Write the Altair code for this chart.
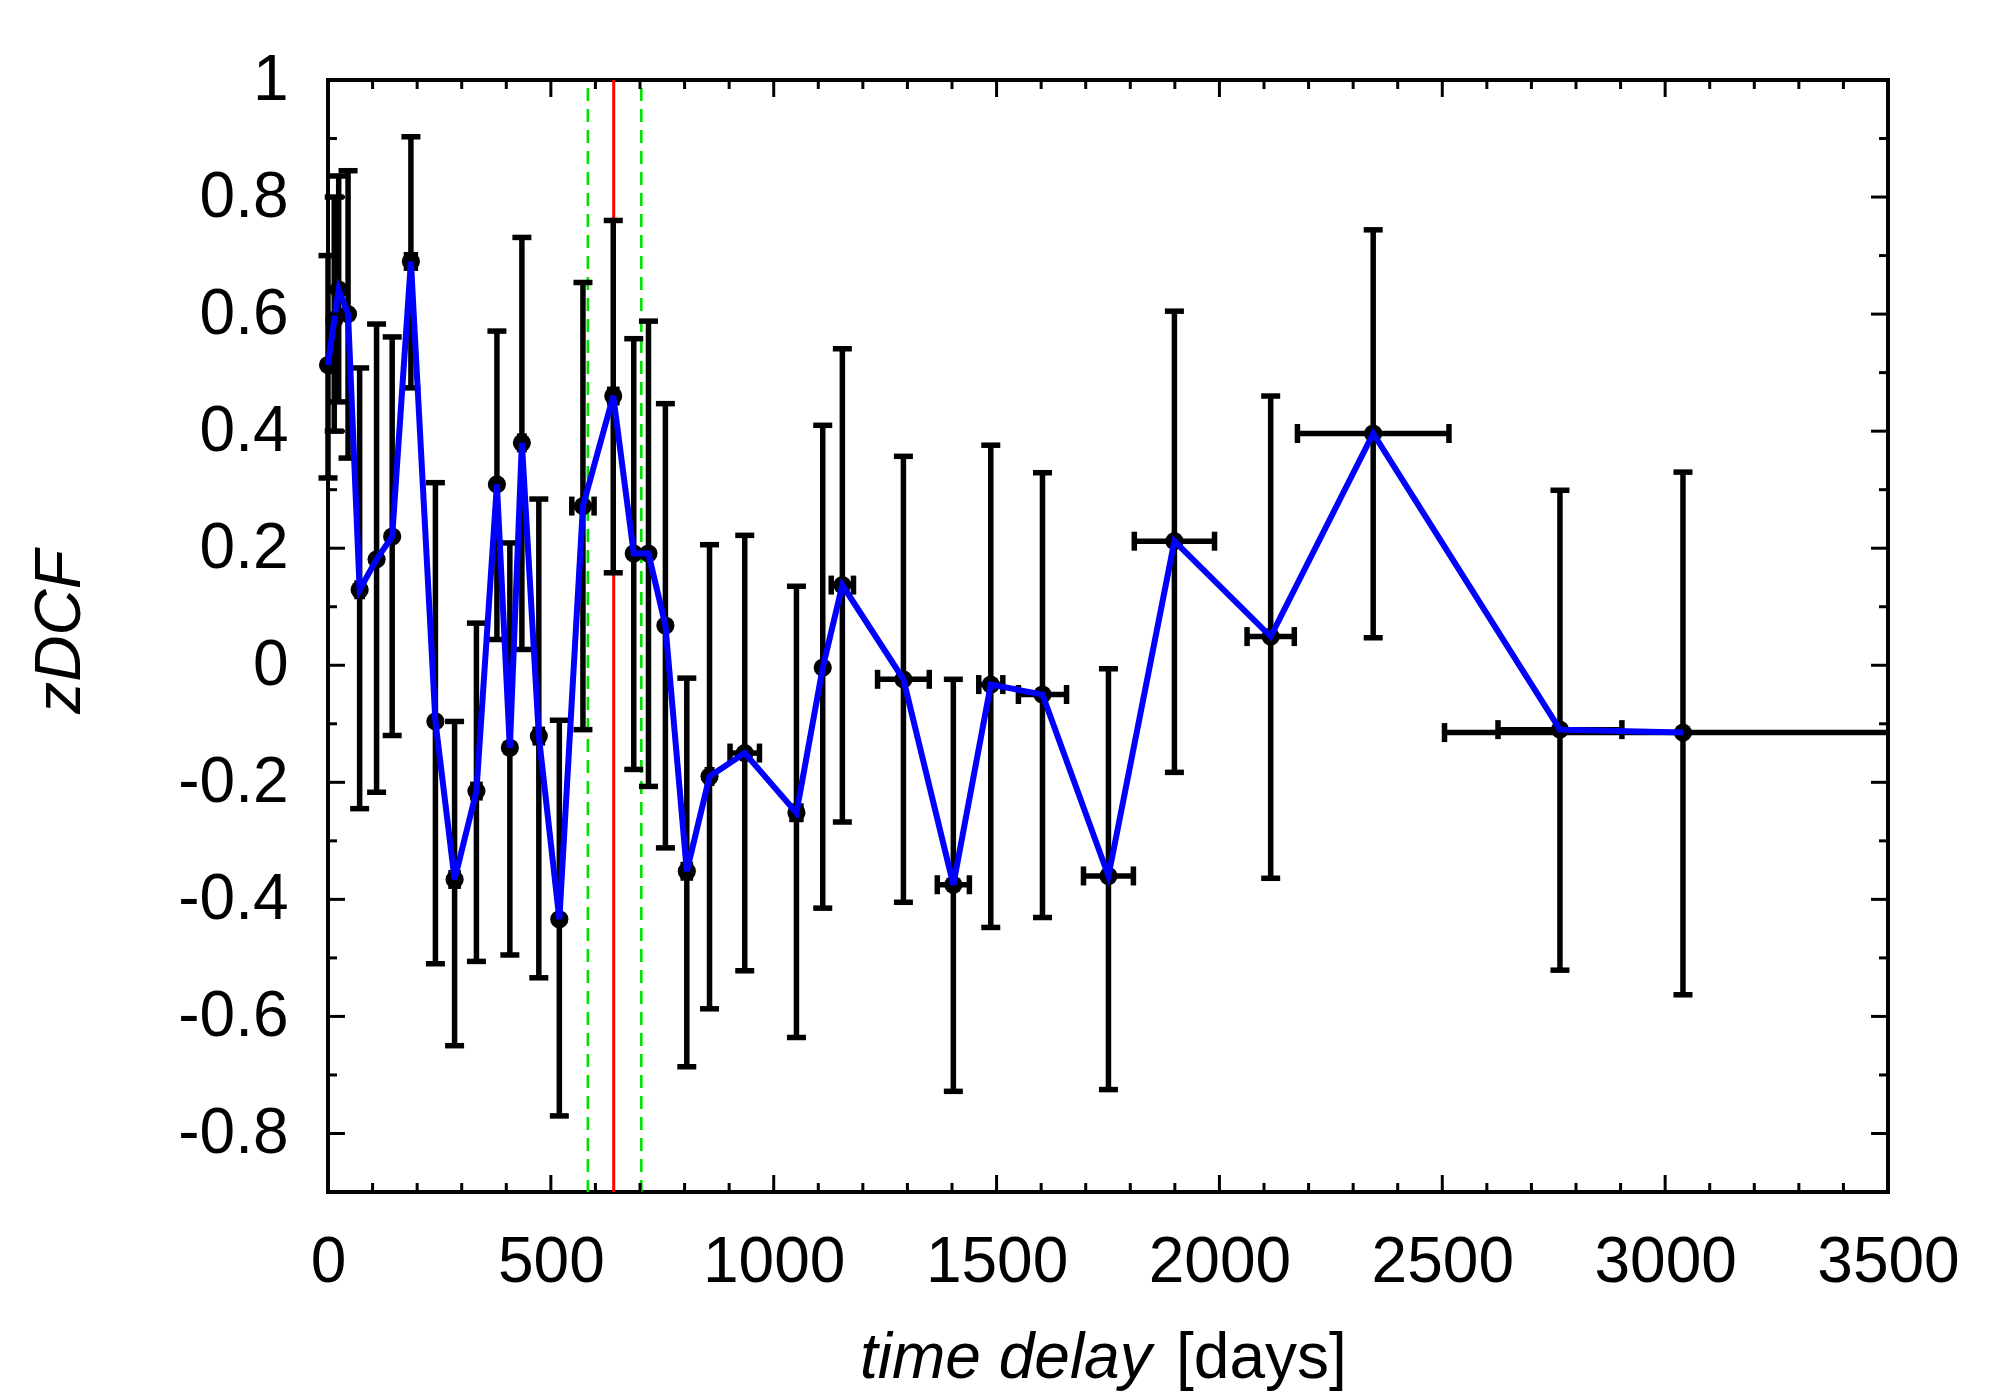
import altair as alt
import pandas as pd

# ---- data ----
lag = [0, 14, 24, 45, 71, 109, 144, 186, 241, 284, 333, 379, 408, 435, 473, 519,
       572, 640, 686, 719, 757, 805, 856, 935, 1051, 1110, 1154, 1291, 1403, 1487,
       1603, 1751, 1899, 2115, 2345, 2764, 3040]
zdcf = [0.513, 0.59, 0.642, 0.60, 0.129, 0.181, 0.22, 0.69, -0.096, -0.366, -0.215,
        0.309, -0.141, 0.38, -0.121, -0.434, 0.272, 0.46, 0.191, 0.191, 0.068, -0.352,
        -0.19, -0.15, -0.252, -0.004, 0.137, -0.024, -0.375, -0.033, -0.05, -0.36,
        0.212, 0.049, 0.396, -0.11, -0.115]
err_lo = [0.32, 0.40, 0.45, 0.354, -0.245, -0.217, -0.12, 0.474, -0.51, -0.65, -0.506,
          0.044, -0.495, 0.027, -0.534, -0.77, -0.11, 0.158, -0.178, -0.207, -0.312,
          -0.686, -0.587, -0.522, -0.636, -0.415, -0.268, -0.405, -0.728, -0.448,
          -0.431, -0.725, -0.183, -0.364, 0.047, -0.521, -0.563]
err_hi = [0.70, 0.80, 0.836, 0.845, 0.508, 0.583, 0.561, 0.903, 0.312, -0.096, 0.072,
          0.571, 0.209, 0.731, 0.284, -0.094, 0.654, 0.760, 0.558, 0.588, 0.447, -0.022,
          0.206, 0.222, 0.135, 0.41, 0.541, 0.357, -0.024, 0.376, 0.329, -0.006, 0.605,
          0.46, 0.744, 0.299, 0.33]
lag_err = [0, 0, 0, 0, 6, 0, 0, 10, 0, 8, 8, 0, 0, 5, 8, 0, 25, 8, 0, 0, 0, 8, 5, 33,
           10, 0, 25, 58, 36, 27, 54, 56, 90, 53, 170, 139, 535]

peak_lag = [641]
peak_range = [583, 703]

x_major = [0, 500, 1000, 1500, 2000, 2500, 3000, 3500]
x_minor = [100, 200, 300, 400, 600, 700, 800, 900, 1100, 1200, 1300, 1400, 1600, 1700,
           1800, 1900, 2100, 2200, 2300, 2400, 2600, 2700, 2800, 2900, 3100, 3200, 3300, 3400]
y_major = [-0.8, -0.6, -0.4, -0.2, 0.0, 0.2, 0.4, 0.6, 0.8, 1.0]
y_minor = [-0.9, -0.7, -0.5, -0.3, -0.1, 0.1, 0.3, 0.5, 0.7, 0.9]

x_title_italic = "time delay"
x_title_unit = "[days]"
y_title = "zDCF"

# ---- layout / style ----
W, H = 1560, 1112
FONT = "Liberation Sans"
FS = 64
MAJ, MIN = 17, 9
LW = 5.5

df = pd.DataFrame({"lag": lag, "zdcf": zdcf, "lo": err_lo, "hi": err_hi, "xe": lag_err})
df["xlo"] = df["lag"] - df["xe"]
df["xhi"] = df["lag"] + df["xe"]
hb = df[df["xe"] > 0]

xs = alt.Scale(domain=[0, 3500], nice=False, zero=False)
ys = alt.Scale(domain=[-0.9, 1.0], nice=False, zero=False)

xaxis = alt.Axis(values=x_major, title=None, grid=False, domain=False, ticks=False,
                 tickSize=0, labelFont=FONT, labelFontSize=FS, labelColor="black",
                 labelPadding=38, labelFlush=False, labelOverlap=False, format="d")
yaxis = alt.Axis(values=y_major, title=None, grid=False, domain=False, ticks=False,
                 tickSize=0, labelFont=FONT, labelFontSize=FS, labelColor="black",
                 labelPadding=40, labelFlush=False, labelOverlap=False,
                 labelExpr="'' + round(datum.value * 10) / 10")


def X(f):
    return alt.X(f, type="quantitative", scale=xs, axis=xaxis)


def Y(f):
    return alt.Y(f, type="quantitative", scale=ys, axis=yaxis)


layers = []

# red peak line and green dashed range
layers.append(alt.Chart(pd.DataFrame({"v": peak_lag})).mark_rule(color="#ff0000", strokeWidth=3)
              .encode(x=X("v"), y=alt.value(0), y2=alt.value(H)))
layers.append(alt.Chart(pd.DataFrame({"v": peak_range})).mark_rule(color="#00e000", strokeWidth=2.6,
                                                                   strokeDash=[13, 8])
              .encode(x=X("v"), y=alt.value(8), y2=alt.value(H)))

# vertical error bars
base = alt.Chart(df)
layers.append(base.mark_rule(color="black", strokeWidth=LW)
              .encode(x=X("lag"), y=Y("lo"), y2="hi"))
layers.append(base.mark_tick(color="black", orient="horizontal", size=19, thickness=LW, opacity=1)
              .encode(x=X("lag"), y=Y("lo")))
layers.append(base.mark_tick(color="black", orient="horizontal", size=19, thickness=LW, opacity=1)
              .encode(x=X("lag"), y=Y("hi")))

# horizontal error bars
hbase = alt.Chart(hb)
layers.append(hbase.mark_rule(color="black", strokeWidth=LW, clip=True)
              .encode(x=X("xlo"), x2="xhi", y=Y("zdcf")))
layers.append(hbase.mark_tick(color="black", orient="vertical", size=19, thickness=LW, opacity=1, clip=True)
              .encode(x=X("xlo"), y=Y("zdcf")))
layers.append(hbase.mark_tick(color="black", orient="vertical", size=19, thickness=LW, opacity=1, clip=True)
              .encode(x=X("xhi"), y=Y("zdcf")))

# points and connecting line
layers.append(base.mark_circle(color="black", size=330, opacity=1)
              .encode(x=X("lag"), y=Y("zdcf")))
layers.append(base.mark_line(color="#0000ff", strokeWidth=6)
              .encode(x=X("lag"), y=Y("zdcf"), order="lag:Q"))

# inward ticks on all four sides
for vals, ln in ((x_major, MAJ), (x_minor, MIN)):
    d = alt.Chart(pd.DataFrame({"v": vals}))
    layers.append(d.mark_rule(color="black", strokeWidth=3)
                  .encode(x=X("v"), y=alt.value(H), y2=alt.value(H - ln)))
    layers.append(d.mark_rule(color="black", strokeWidth=3)
                  .encode(x=X("v"), y=alt.value(0), y2=alt.value(ln)))
for vals, ln in ((y_major, MAJ), (y_minor, MIN)):
    d = alt.Chart(pd.DataFrame({"v": vals}))
    layers.append(d.mark_rule(color="black", strokeWidth=3)
                  .encode(y=Y("v"), x=alt.value(0), x2=alt.value(ln)))
    layers.append(d.mark_rule(color="black", strokeWidth=3)
                  .encode(y=Y("v"), x=alt.value(W), x2=alt.value(W - ln)))

# axis titles
layers.append(alt.Chart(pd.DataFrame({"t": [x_title_italic]}))
              .mark_text(font=FONT, fontSize=FS, fontStyle="italic", color="black",
                         align="left", baseline="alphabetic")
              .encode(text="t:N", x=alt.value(532), y=alt.value(1298)))
layers.append(alt.Chart(pd.DataFrame({"t": [x_title_unit]}))
              .mark_text(font=FONT, fontSize=FS, color="black", align="left", baseline="alphabetic")
              .encode(text="t:N", x=alt.value(848), y=alt.value(1298)))
layers.append(alt.Chart(pd.DataFrame({"t": [y_title]}))
              .mark_text(font=FONT, fontSize=FS, fontStyle="italic", color="black",
                         align="center", baseline="alphabetic", angle=270)
              .encode(text="t:N", x=alt.value(-248), y=alt.value(552)))

chart = alt.layer(*layers).properties(
    width=W, height=H,
    autosize=alt.AutoSizeParams(type="none"),
    padding={"left": 320, "top": 72, "right": 104, "bottom": 210},
    background="white",
).configure_view(stroke="black", strokeWidth=4)

chart.save("out.html", embed_options={"renderer": "svg", "actions": False})
